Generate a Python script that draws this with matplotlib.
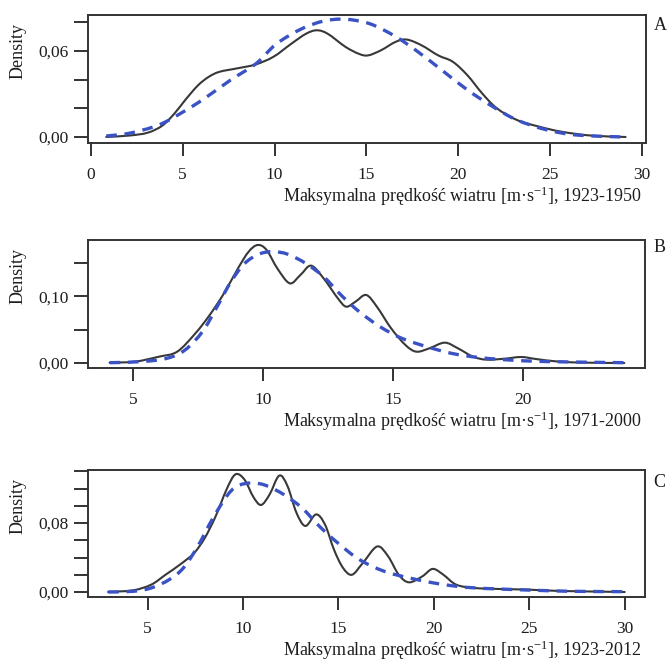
import numpy as np
import matplotlib
matplotlib.use("Agg")
import matplotlib.pyplot as plt
from matplotlib.path import Path
from matplotlib.patches import PathPatch
from matplotlib.ticker import FixedLocator, FuncFormatter

plt.rcParams['font.family'] = ['Liberation Serif', 'DejaVu Serif']
plt.rcParams['mathtext.default'] = 'regular'

# Panel A, 1923-1950
a_kde_x = [0.84, 2.1, 3.1, 3.9, 4.56, 5.15, 5.83, 6.42, 7.0, 8.0, 8.96, 9.94, 10.9, 11.7,
           12.3, 12.9, 13.85, 14.6, 15.1, 15.8, 16.6, 17.2, 18.0, 18.9, 19.7, 20.5, 21.3,
           22.1, 23.2, 24.4, 25.6, 27.2, 29.1]
a_kde_y = [0.0, 0.001, 0.003, 0.008, 0.0165, 0.026, 0.036, 0.042, 0.0455, 0.048, 0.0506, 0.056,
           0.065, 0.072, 0.0745, 0.072, 0.063, 0.058, 0.057, 0.0606, 0.0665, 0.068, 0.064, 0.057,
           0.0525, 0.043, 0.0304, 0.020, 0.0118, 0.0072, 0.0037, 0.001, 0.0]
a_fit_x = [0.84, 2.1, 3.7, 5.05, 6.2, 7.6, 9.0, 10.1, 11.5, 12.7, 13.85, 15.2, 16.6, 17.8,
           19.1, 20.5, 21.9, 23.2, 24.8, 26.4, 28.9]
a_fit_y = [0.0007, 0.0026, 0.0084, 0.0177, 0.027, 0.0397, 0.0513, 0.065, 0.0757, 0.081, 0.0822,
           0.079, 0.070, 0.0595, 0.0467, 0.0328, 0.021, 0.0118, 0.005, 0.0014, 0.0]

# Panel B, 1971-2000
b_kde_x = [4.1, 5.07, 6.0, 6.7, 7.4, 7.95, 8.5, 9.04, 9.45, 9.8, 10.14, 10.55, 11.03, 11.44,
           11.85, 12.33, 12.88, 13.2, 13.56, 13.97, 14.38, 14.93, 15.48, 15.9, 16.4, 16.99,
           17.5, 18.08, 18.6, 19.3, 19.93, 20.5, 21.4, 22.5, 23.9]
b_kde_y = [0.0005, 0.002, 0.0095, 0.017, 0.0445, 0.072, 0.1045, 0.142, 0.167, 0.177, 0.1695,
           0.142, 0.1195, 0.132, 0.146, 0.127, 0.097, 0.0845, 0.092, 0.102, 0.0845, 0.052,
           0.027, 0.017, 0.022, 0.0305, 0.022, 0.0095, 0.005, 0.0065, 0.009, 0.006, 0.002,
           0.0005, 0.0]
b_fit_x = [4.1, 5.3, 6.3, 7.0, 7.67, 8.2, 8.77, 9.3, 9.86, 10.4, 10.96, 11.64, 12.33, 13.0,
           13.7, 14.5, 15.34, 16.3, 17.25, 18.36, 19.7, 21.1, 23.9]
b_fit_y = [0.0005, 0.002, 0.007, 0.0195, 0.047, 0.082, 0.122, 0.1495, 0.1635, 0.167, 0.163,
           0.1495, 0.1295, 0.102, 0.077, 0.0545, 0.037, 0.0245, 0.0145, 0.008, 0.004, 0.002,
           0.0005]

# Panel C, 1923-2012
c_kde_x = [2.93, 4.25, 5.19, 5.94, 6.7, 7.44, 8.0, 8.57, 9.14, 9.6, 10.07, 10.55, 10.95, 11.39,
           11.9, 12.33, 12.8, 13.27, 13.83, 14.3, 14.77, 15.24, 15.71, 16.28, 17.03, 17.6,
           18.16, 18.7, 19.4, 19.94, 20.5, 21.17, 22.1, 23.42, 25.0, 26.6, 30.0]
c_kde_y = [0.0, 0.002, 0.0085, 0.020, 0.0318, 0.0453, 0.0628, 0.088, 0.119, 0.1364, 0.1306,
           0.110, 0.101, 0.113, 0.135, 0.123, 0.092, 0.0766, 0.090, 0.078, 0.049, 0.028, 0.020,
           0.0337, 0.0528, 0.0415, 0.020, 0.0112, 0.0182, 0.0268, 0.020, 0.0085, 0.0047,
           0.0035, 0.0027, 0.0012, 0.0]
c_fit_x = [2.93, 4.25, 5.19, 6.13, 6.88, 7.63, 8.38, 9.14, 9.7, 10.45, 11.2, 12.14, 13.08,
           14.0, 14.96, 16.1, 17.4, 18.72, 20.2, 21.7, 23.4, 25.3, 27.2, 30.0]
c_fit_y = [0.0, 0.0008, 0.0047, 0.0143, 0.028, 0.053, 0.084, 0.111, 0.1229, 0.1265, 0.1236,
           0.113, 0.0977, 0.0763, 0.057, 0.0376, 0.024, 0.0163, 0.0097, 0.0054, 0.0035, 0.002,
           0.0008, 0.0004]

panels = [
    dict(kx=a_kde_x, ky=a_kde_y, fx=a_fit_x, fy=a_fit_y, letter='A', period='1923-1950',
         xlim=(-0.15, 30.2), ylim=(-0.0042, 0.0852), xticks=[0, 5, 10, 15, 20, 25, 30],
         yticks=[0, 0.02, 0.04, 0.06, 0.08], ylabels=[0, 0.06], rect=[0.131, 0.784, 0.830, 0.1934],
         ly=0.92),
    dict(kx=b_kde_x, ky=b_kde_y, fx=b_fit_x, fy=b_fit_y, letter='B', period='1971-2000',
         xlim=(3.27, 24.7), ylim=(-0.0075, 0.1845), xticks=[5, 10, 15, 20],
         yticks=[0, 0.05, 0.10, 0.15], ylabels=[0, 0.10], rect=[0.131, 0.4441, 0.829, 0.1934],
         ly=0.94),
    dict(kx=c_kde_x, ky=c_kde_y, fx=c_fit_x, fy=c_fit_y, letter='C', period='1923-2012',
         xlim=(1.88, 31.07), ylim=(-0.0058, 0.1415), xticks=[5, 10, 15, 20, 25, 30],
         yticks=[0, 0.02, 0.04, 0.06, 0.08, 0.10, 0.12, 0.14], ylabels=[0, 0.08],
         rect=[0.131, 0.0982, 0.829, 0.1918], ly=0.905),
]


def smooth_path(xs, ys):
    # smooth curve through the read points (Catmull-Rom as cubic Bezier)
    pts = np.column_stack([xs, ys])
    verts = [pts[0]]
    codes = [Path.MOVETO]
    n = len(pts)
    for i in range(n - 1):
        p0 = pts[max(i - 1, 0)]
        p1 = pts[i]
        p2 = pts[i + 1]
        p3 = pts[min(i + 2, n - 1)]
        verts += [p1 + (p2 - p0) / 6, p2 - (p3 - p1) / 6, p2]
        codes += [Path.CURVE4] * 3
    return Path(verts, codes)


fs = 12.5
lfs = 13
edge = '#333333'
txt = '#1e1e1e'

fig = plt.figure(figsize=(6.72, 6.62), dpi=100)
for p in panels:
    ax = fig.add_axes(p['rect'])
    ax.add_patch(PathPatch(smooth_path(p['kx'], p['ky']), fill=False, edgecolor='#383838',
                           lw=1.5, joinstyle='round', capstyle='round'))
    ax.add_patch(PathPatch(smooth_path(p['fx'], p['fy']), fill=False, edgecolor='#3a52c4',
                           lw=2.4, linestyle=(0, (3.2, 2.3))))
    ax.set_xlim(*p['xlim'])
    ax.set_ylim(*p['ylim'])
    for s in ax.spines.values():
        s.set_color(edge)
        s.set_linewidth(1.4)
    ax.xaxis.set_major_locator(FixedLocator(p['xticks']))
    ax.yaxis.set_major_locator(FixedLocator(p['yticks']))
    ax.xaxis.set_major_formatter(FuncFormatter(lambda v, pos: f'{v:g}'))
    labs = p['ylabels']
    ax.yaxis.set_major_formatter(FuncFormatter(
        lambda v, pos, labs=labs: (f'{v:.2f}'.replace('.', ',')
                                   if any(abs(v - l) < 1e-9 for l in labs) else '')))
    ax.tick_params(axis='x', direction='out', length=9, width=1.4, color=edge,
                   labelsize=fs, pad=8, colors=txt)
    ax.tick_params(axis='y', direction='out', length=10, width=1.4, color=edge,
                   labelsize=fs, pad=4, colors=txt)
    ax.text(-0.125, 0.72, 'Density', rotation=90, ha='center', va='center',
            fontsize=lfs, transform=ax.transAxes, color=txt)
    ax.text(1.026, p['ly'], p['letter'], ha='center', va='center', fontsize=lfs,
            transform=ax.transAxes, color=txt)
    ax.text(0.993, -0.42, 'Maksymalna prędkość wiatru [m·s$^{-1}$], ' + p['period'],
            ha='right', va='center', fontsize=lfs, transform=ax.transAxes, color=txt)

fig.savefig('out.png', dpi=100)
